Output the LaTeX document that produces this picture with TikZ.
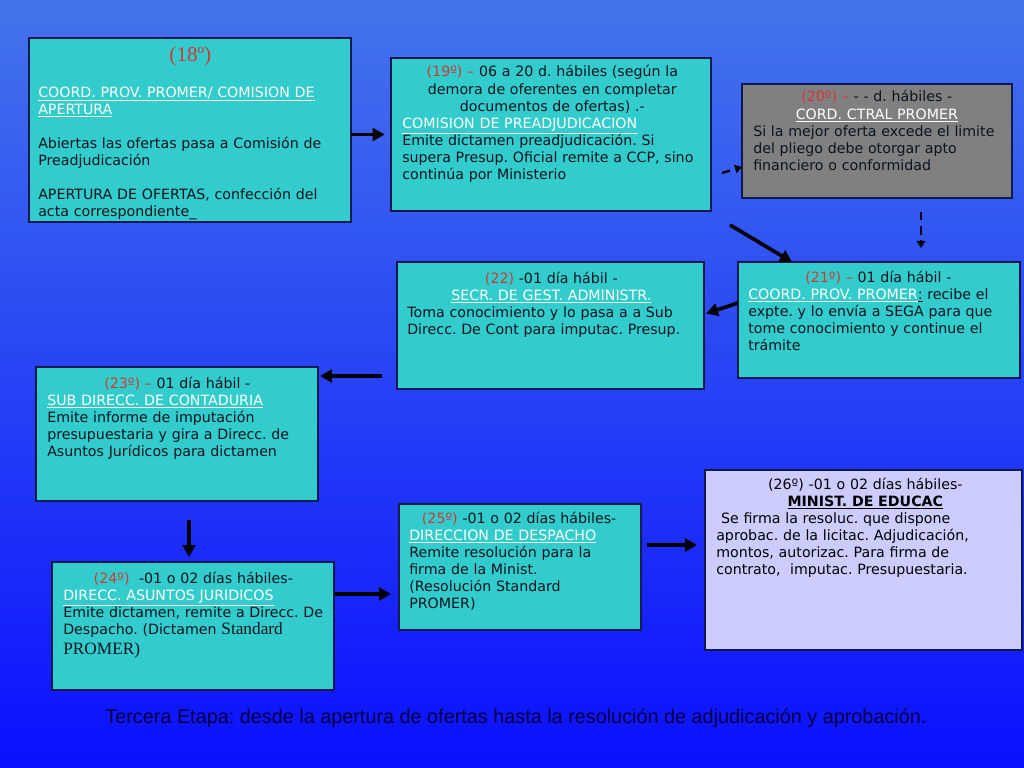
\documentclass[tikz,border=0pt]{standalone}
\usepackage{fontspec}
\setmainfont{DejaVu Sans}
\newfontfamily\tnr{Liberation Serif}
\newfontfamily\arial{Liberation Sans}
\usetikzlibrary{arrows.meta,fit,calc}
\frenchspacing

\definecolor{celeste}{HTML}{33CCCC}
\definecolor{gris}{HTML}{808080}
\definecolor{lila}{HTML}{CCCCFF}
\definecolor{borde}{HTML}{101850}
\definecolor{rojo}{HTML}{D03838}
\definecolor{tinta}{HTML}{0A1420}
\definecolor{fondoA}{HTML}{4474EC}
\definecolor{fondoB}{HTML}{0A10FF}
\definecolor{pie}{HTML}{000040}

\newcommand{\enc}[1]{\textcolor{white}{\underline{#1}}}
\newcommand{\num}[1]{\textcolor{rojo}{#1}}

\begin{document}
\begin{tikzpicture}[x=0.025cm, y=-0.025cm,
    caja/.style={draw=borde, line width=1pt, fill=celeste, inner sep=0pt, outer sep=0pt},
    texto/.style={anchor=base west, inner sep=0pt, align=left, text=tinta,
      font=\fontsize{10.1}{12.1}\selectfont},
    flecha/.style={-{Triangle[length=8.5pt,width=9pt]}, line width=2.6pt, black},
    guion/.style={-{Triangle[length=5pt,width=6pt]}, line width=1.6pt,
      dash pattern=on 6pt off 4pt, black}]
    \shade[top color=fondoA, bottom color=fondoB] (0,0) rectangle (1024,768);

    \node[caja, fit={(29,38) (351,222)}] (c18) {};
    \node[caja, fit={(391,58) (711,211)}] (c19) {};
    \node[caja, fill=gris, fit={(742,84) (1012,198)}] (c20) {};
    \node[caja, fit={(738,262) (1020,378)}] (c21) {};
    \node[caja, fit={(397,262) (704,389)}] (c22) {};
    \node[caja, fit={(36,367) (318,501)}] (c23) {};
    \node[caja, fit={(52,562) (334,690)}] (c24) {};
    \node[caja, fit={(399,504) (641,630)}] (c25) {};
    \node[caja, fill=lila, fit={(705,470) (1022,650)}] (c26) {};

    \node[texto, text width=7.6cm] (t18) at (38,62) {{\centering\tnr\fontsize{15}{17}\selectfont\num{(18º)}\par}\vspace{12.8pt}
      \enc{COORD. PROV. PROMER/ COMISION DE}\\
      \enc{APERTURA}\\[12.1pt]
      Abiertas las ofertas pasa a Comisión de\\
      Preadjudicación\\[12.1pt]
      APERTURA DE OFERTAS, confección del\\
      acta correspondiente\_};
    \node[texto, text width=7.5cm] (t19) at (402,77) {{\centering\num{(19º) –} 06 a 20 d. hábiles (según la\\
      demora de oferentes en completar\\
      documentos de ofertas) .-\par}
      \enc{COMISION DE PREADJUDICACION}\\
      Emite dictamen preadjudicación. Si\\
      supera Presup. Oficial remite a CCP, sino\\
      continúa por Ministerio};
    \node[texto, text width=6.175cm] (t20) at (753,102) {{\centering\num{(20º) –} - - d. hábiles -\\
      \enc{CORD. CTRAL PROMER}\par}
      Si la mejor oferta excede el limite\\
      del pliego debe otorgar apto\\
      financiero o conformidad};
    \node[texto, text width=6.5cm] (t21) at (748,282) {{\centering\num{(21º) –} 01 día hábil -\par}
      \enc{COORD. PROV. PROMER}\underline{:} recibe el\\
      expte. y lo envía a SEGA para que\\
      tome conocimiento y continue el\\
      trámite};
    \node[texto, text width=7.2cm] (t22) at (407,283) {{\centering\num{(22)} -01 día hábil -\\
      \enc{SECR. DE GEST. ADMINISTR.}\par}
      Toma conocimiento y lo pasa a a Sub\\
      Direcc. De Cont para imputac. Presup.};
    \node[texto, text width=6.5cm] (t23) at (47,388) {{\centering\num{(23º) –} 01 día hábil -\par}
      \enc{SUB DIRECC. DE CONTADURIA}\\
      Emite informe de imputación\\
      presupuestaria y gira a Direcc. de\\
      Asuntos Jurídicos para dictamen};
    \node[texto, text width=6.5cm] (t24) at (63,583) {{\centering\num{(24º)}\ \ -01 o 02 días hábiles-\par}
      \enc{DIRECC. ASUNTOS JURIDICOS}\\
      Emite dictamen, remite a Direcc. De\\
      Despacho. (Dictamen {\tnr\fontsize{12.3}{14}\selectfont Standard}\\[2.5pt]
      {\tnr\fontsize{12.3}{14}\selectfont PROMER)}};
    \node[texto, text width=5.65cm] (t25) at (409,523) {\hspace*{9pt}\num{(25º)} -01 o 02 días hábiles-\\
      \enc{DIRECCION DE DESPACHO}\\
      Remite resolución para la\\
      firma de la Minist.\\
      (Resolución Standard\\
      PROMER)};
    \node[texto, text=black, text width=7.45cm] (t26) at (716,489) {{\centering (26º) -01 o 02 días hábiles-\\
      \textbf{\underline{MINIST. DE EDUCAC}}\par}
      \ Se firma la resoluc. que dispone\\
      aprobac. de la licitac. Adjudicación,\\
      montos, autorizac. Para firma de\\
      contrato,\ \ imputac. Presupuestaria.};

    \node[font=\arial\fontsize{14.1}{16}\selectfont, text=pie] (titulo) at (516,718) {Tercera Etapa: desde la apertura de ofertas hasta la resolución de adjudicación y aprobación.};

    \draw[flecha] (c18.east |- c19.west) -- ([xshift=-4.5pt]c19.west);
    \draw[guion] ($(c19.south east)+(11,-38)$) -- ($(c20.south west)+(0,-31)$);
    \draw[guion] ($(c20.south west)+(179,14)$) -- ($(c21.north west)+(183,-14)$);
    \draw[flecha] ($(c19.south east)+(19,14)$) -- ($(c21.north west)+(54,0)$);
    \draw[flecha] ($(c21.west)+(0,-17)$) -- ($(c22.east)+(2,-12)$);
    \draw[flecha] ($(c22.south west)+(-15,-13)$) -- ($(c23.north east)+(2,9)$);
    \draw[flecha] ($(c23.south west)+(153,19)$) -- ($(c24.north west)+(137,-5)$);
    \draw[flecha] ($(c24.north east)+(1,32)$) -- ($(c25.south west)+(-8,-36)$);
    \draw[flecha] ($(c25.north east)+(6,41)$) -- ($(c26.north west)+(-8,75)$);
\end{tikzpicture}
\end{document}
